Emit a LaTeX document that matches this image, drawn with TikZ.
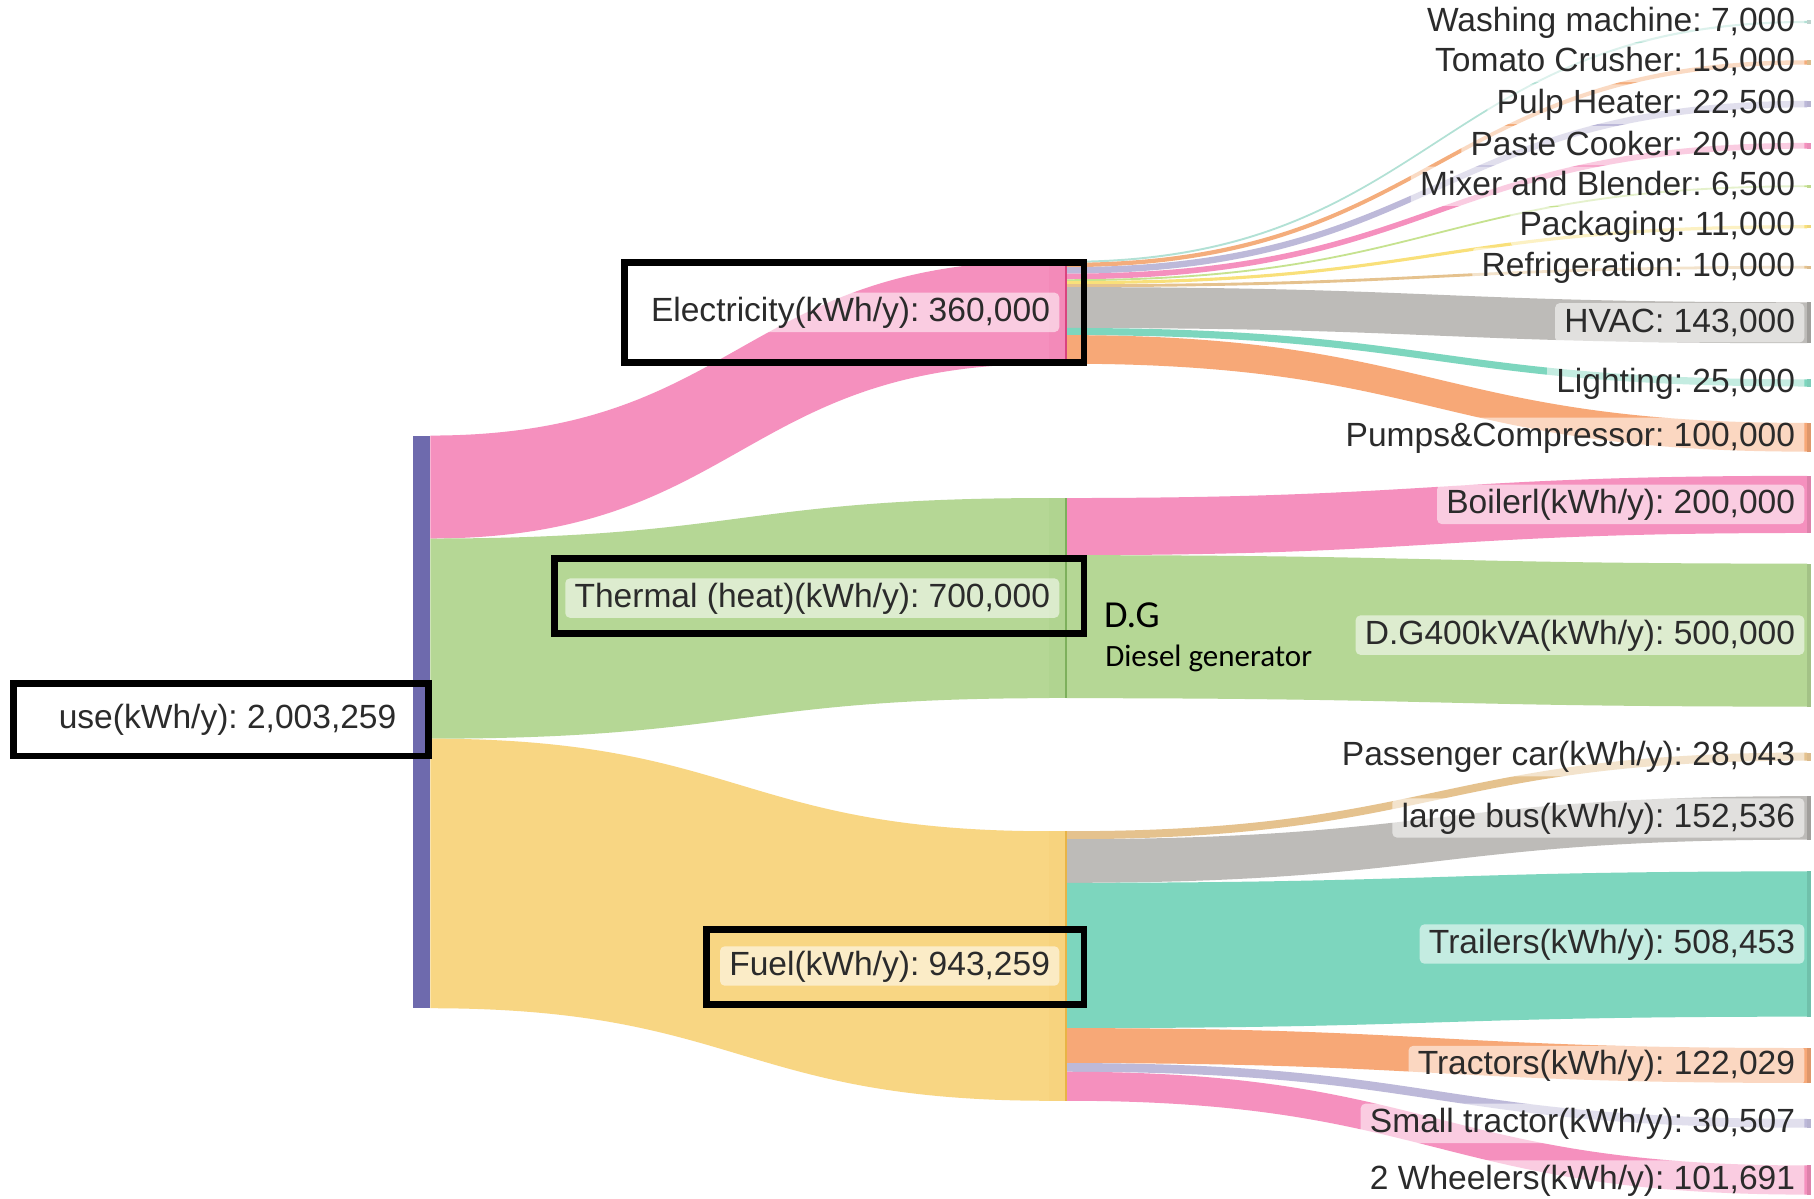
\documentclass[tikz,border=0pt]{standalone}
\usepackage{fontspec}
\setmainfont{Liberation Sans}
\newfontfamily\calibri{Carlito}
\frenchspacing

% palette
\definecolor{usebar}{HTML}{6E6AAD}
\definecolor{pinkL}{HTML}{F590BE}
\definecolor{greenL}{HTML}{B5D795}
\definecolor{yellowL}{HTML}{F8D683}
\definecolor{grayL}{HTML}{BDBBB8}
\definecolor{tealL}{HTML}{7DD6BE}
\definecolor{orangeL}{HTML}{F7A877}
\definecolor{lavL}{HTML}{BDB9D9}
\definecolor{tanL}{HTML}{E5C28E}
\definecolor{limeL}{HTML}{C6E28F}
\definecolor{goldL}{HTML}{F9E07A}
\definecolor{skyL}{HTML}{9FD9CB}
\definecolor{pinkE}{HTML}{D9447F}
\definecolor{greenE}{HTML}{7DB05C}
\definecolor{yellowE}{HTML}{E8B446}
\definecolor{txt}{HTML}{2B2B2B}

% a sankey flow: colour, x0, top0, bottom0, x1, top1, bottom1
\newcommand\flowband[7]{%
  \pgfmathsetmacro\xmid{(#2+#5)/2}%
  \fill[#1] (#2,#3) .. controls (\xmid,#3) and (\xmid,#6) .. (#5,#6)
     -- (#5,#7) .. controls (\xmid,#7) and (\xmid,#4) .. (#2,#4) -- cycle;}

% right-hand end bar of a flow: colour, top, bottom
\newcommand\sinkbar[3]{\fill[#1] (1562,#2) rectangle (1565,#3);}

\begin{document}
\begin{tikzpicture}[x=0.5pt,y=-0.5pt,
  lbl/.style={font=\fontsize{14.5pt}{17pt}\selectfont, text=txt,
    fill=white, fill opacity=0.55, text opacity=1, rounded corners=2pt,
    inner xsep=4pt, inner ysep=1.5pt, text height=11pt, text depth=3pt,
    anchor=east},
  callout/.style={draw=black, line width=3pt}]

\useasboundingbox (0,0) rectangle (1568,1036);
\fill[white] (0,0) rectangle (1568,1036);

% ---------- first stage: total use split into three carriers
\flowband{pinkL}{372}{376.5}{465.5}{907}{225.5}{314.5}
\flowband{greenL}{372}{465.5}{638.5}{907}{430.5}{603.5}
\flowband{yellowL}{372}{638.5}{871.5}{907}{718.5}{951.5}

% ---------- electricity end uses
\flowband{skyL!80!white}{922}{225.5}{227.2}{1562}{18.1}{19.9}
\flowband{orangeL!80!tanL}{922}{227.2}{230.9}{1562}{52.1}{55.9}
\flowband{lavL}{922}{230.9}{236.5}{1562}{87.2}{92.8}
\flowband{pinkL}{922}{236.5}{241.4}{1562}{123.5}{128.5}
\flowband{limeL}{922}{241.4}{243.0}{1562}{160.2}{161.8}
\flowband{goldL}{922}{243.0}{245.7}{1562}{194.6}{197.4}
\flowband{tanL}{922}{245.7}{248.2}{1562}{229.8}{232.2}
\flowband{grayL}{922}{248.2}{283.5}{1562}{261.3}{296.7}
\flowband{tealL}{922}{283.5}{289.7}{1562}{327.9}{334.1}
\flowband{orangeL}{922}{289.7}{314.4}{1562}{365.6}{390.4}

% ---------- thermal end uses
\flowband{pinkL}{922}{430.5}{479.9}{1562}{411.3}{460.7}
\flowband{greenL}{922}{479.9}{603.5}{1562}{487.2}{610.8}

% ---------- fuel end uses
\flowband{tanL}{922}{718.5}{725.4}{1562}{650.5}{657.5}
\flowband{grayL}{922}{725.4}{763.1}{1562}{688.2}{725.8}
\flowband{tealL}{922}{763.1}{888.7}{1562}{753.2}{878.8}
\flowband{orangeL}{922}{888.7}{918.9}{1562}{905.9}{936.1}
\flowband{lavL}{922}{918.9}{926.4}{1562}{967.2}{974.8}
\flowband{pinkL}{922}{926.4}{951.5}{1562}{1007.4}{1032.6}

% ---------- nodes (bars)
\fill[usebar] (357,376.5) rectangle (372,871.5);
\fill[pinkL!92!pinkE] (907,225.5) rectangle (922,314.5);
\draw[pinkE, line width=1pt] (921.5,225.5) -- (921.5,314.5);
\fill[greenL!92!greenE] (907,430.5) rectangle (922,603.5);
\draw[greenE, line width=0.8pt] (921.5,430.5) -- (921.5,603.5);
\fill[yellowL!92!yellowE] (907,718.5) rectangle (922,951.5);
\draw[yellowE, line width=0.8pt] (921.5,718.5) -- (921.5,951.5);

\sinkbar{skyL!60!gray!60}{17.5}{20.5}
\sinkbar{tanL!90!gray}{52.1}{55.9}
\sinkbar{lavL!90!gray}{87.2}{92.8}
\sinkbar{pinkL!90!gray}{123.5}{128.5}
\sinkbar{limeL!90!gray}{159.5}{162.5}
\sinkbar{goldL!90!gray}{194.6}{197.4}
\sinkbar{tanL!90!gray}{229.8}{232.2}
\sinkbar{grayL!85!black}{261.3}{296.7}
\sinkbar{tealL!90!gray}{327.9}{334.1}
\sinkbar{orangeL!90!black}{365.6}{390.4}
\sinkbar{pinkL!90!black}{411.3}{460.7}
\sinkbar{greenL!90!black}{487.2}{610.8}
\sinkbar{tanL!90!gray}{650.5}{657.5}
\sinkbar{grayL!85!black}{688.2}{725.8}
\sinkbar{tealL!90!black}{753.2}{878.8}
\sinkbar{orangeL!90!black}{905.9}{936.1}
\sinkbar{lavL!90!gray}{967.2}{974.8}
\sinkbar{pinkL!90!black}{1007.4}{1032.6}

% ---------- labels
\node[lbl] (use) at (351,622) {use(kWh/y): 2,003,259};
\node[lbl] (elec) at (916,270) {Electricity(kWh/y): 360,000};
\node[lbl] (therm) at (916,517) {Thermal (heat)(kWh/y): 700,000};
\node[lbl] (fuel) at (916,835) {Fuel(kWh/y): 943,259};

\node[lbl] (wash) at (1560,19) {Washing machine: 7,000};
\node[lbl] (tomato) at (1560,54) {Tomato Crusher: 15,000};
\node[lbl] (pulp) at (1560,90) {Pulp Heater: 22,500};
\node[lbl] (paste) at (1560,126) {Paste Cooker: 20,000};
\node[lbl] (mixer) at (1560,161) {Mixer and Blender: 6,500};
\node[lbl] (pack) at (1560,196) {Packaging: 11,000};
\node[lbl] (fridge) at (1560,231) {Refrigeration: 10,000};
\node[lbl] (hvac) at (1560,279) {HVAC: 143,000};
\node[lbl] (light) at (1560,331) {Lighting: 25,000};
\node[lbl] (pumps) at (1560,378) {Pumps\&Compressor: 100,000};
\node[lbl] (boiler) at (1560,436) {Boilerl(kWh/y): 200,000};
\node[lbl] (dg) at (1560,549) {D.G400kVA(kWh/y): 500,000};
\node[lbl] (car) at (1560,654) {Passenger car(kWh/y): 28,043};
\node[lbl] (bus) at (1560,707) {large bus(kWh/y): 152,536};
\node[lbl] (trailers) at (1560,816) {Trailers(kWh/y): 508,453};
\node[lbl] (tractors) at (1560,921) {Tractors(kWh/y): 122,029};
\node[lbl] (smalltr) at (1560,971) {Small tractor(kWh/y): 30,507};
\node[lbl] (wheels) at (1560,1020) {2 Wheelers(kWh/y): 101,691};

% ---------- diesel generator note
\node[anchor=base west, inner sep=0pt, font=\calibri\fontsize{16.5pt}{19pt}\selectfont] (dgnote) at (954,542) {D.G};
\node[anchor=base west, inner sep=0pt, font=\calibri\fontsize{13.4pt}{16pt}\selectfont] (dgfull) at (955,576) {Diesel generator};

% ---------- highlight frames
\draw[callout] (12,590.5) rectangle (370,653.5);
\draw[callout] (540,227) rectangle (937,313);
\draw[callout] (479,483) rectangle (937,547.5);
\draw[callout] (611,803.5) rectangle (937,868);
\end{tikzpicture}
\end{document}
